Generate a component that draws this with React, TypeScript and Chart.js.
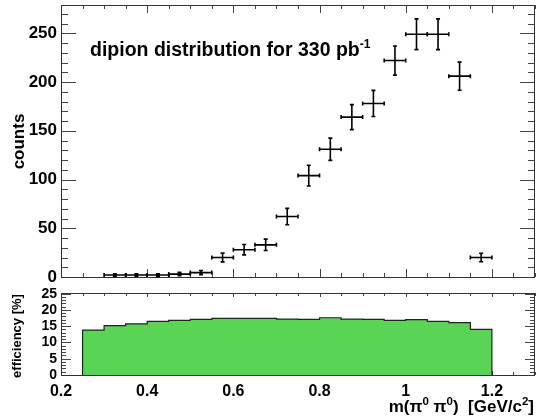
import React, { useEffect, useRef } from "react";
import { Chart, registerables } from "chart.js";

Chart.register(...registerables);

// ---------- data ----------
const binWidth = 0.05;
const countBinCenters = [0.325, 0.375, 0.425, 0.475, 0.525, 0.575, 0.625, 0.675, 0.725, 0.775, 0.825, 0.875, 0.925, 0.975, 1.025, 1.075, 1.125, 1.175];
const counts = [2, 2, 2, 3, 4.5, 20, 28, 33, 62, 104, 131, 164, 178, 222, 249, 249, 206, 20];
const countErrors = [1.4, 1.4, 1.4, 1.7, 2.1, 4.5, 5.3, 5.8, 8.4, 10.7, 11.4, 12.8, 13.4, 14.9, 15.8, 15.8, 14.4, 4.3];

const effBinLowEdges = [0.25, 0.3, 0.35, 0.4, 0.45, 0.5, 0.55, 0.6, 0.65, 0.7, 0.75, 0.8, 0.85, 0.9, 0.95, 1.0, 1.05, 1.1, 1.15];
const efficiency = [13.8, 15.2, 15.7, 16.5, 16.8, 17.1, 17.4, 17.4, 17.4, 17.2, 17.1, 17.6, 17.2, 17.1, 16.8, 17.0, 16.5, 16.1, 14.0];

const xTickLabels = ["0.2", "0.4", "0.6", "0.8", "1", "1.2"];
const topYTickLabels = ["0", "50", "100", "150", "200", "250"];
const bottomYTickLabels = ["0", "5", "10", "15", "20", "25"];

const FONT = "'Liberation Sans', Arial, Helvetica, sans-serif";

type Part = { t: string; sup?: boolean };

function drawRich(ctx: CanvasRenderingContext2D, parts: Part[], x: number, y: number, size: number, supSize: number, supRise: number, align: "left" | "right") {
  const fontOf = (p: Part) => `bold ${p.sup ? supSize : size}px ${FONT}`;
  let total = 0;
  for (const p of parts) {
    ctx.font = fontOf(p);
    total += ctx.measureText(p.t).width;
  }
  let cx = align === "left" ? x : x - total;
  ctx.textAlign = "left";
  ctx.textBaseline = "alphabetic";
  for (const p of parts) {
    ctx.font = fontOf(p);
    ctx.fillText(p.t, cx, p.sup ? y - supRise : y);
    cx += ctx.measureText(p.t).width;
  }
}

type FrameCfg = {
  xMajor: number; xMinor: number; yMajor: number; yMinor: number;
  xMajLen: number; xMinLen: number; yMajLen: number; yMinLen: number;
};

function makeFramePlugin(cfg: FrameCfg) {
  return {
    id: "rootFrame",
    beforeDatasetsDraw(chart: any) {
      const { ctx, chartArea: a, scales } = chart;
      const xs = scales.x, ys = scales.y;
      ctx.save();
      ctx.strokeStyle = "#444";
      ctx.lineWidth = 1;
      const ticks = (min: number, max: number, step: number) => {
        const out: number[] = [];
        const start = Math.ceil(min / step - 1e-6);
        for (let k = start; k * step <= max + 1e-9; k++) out.push(k * step);
        return out;
      };
      const isMajor = (v: number, major: number) => Math.abs(v / major - Math.round(v / major)) < 1e-6;
      ctx.beginPath();
      for (const v of ticks(xs.min, xs.max, cfg.xMinor)) {
        const px = Math.round(xs.getPixelForValue(v)) + 0.5;
        const len = isMajor(v, cfg.xMajor) ? cfg.xMajLen : cfg.xMinLen;
        ctx.moveTo(px, a.bottom); ctx.lineTo(px, a.bottom - len);
        ctx.moveTo(px, a.top); ctx.lineTo(px, a.top + len);
      }
      for (const v of ticks(ys.min, ys.max, cfg.yMinor)) {
        const py = Math.round(ys.getPixelForValue(v)) + 0.5;
        const len = isMajor(v, cfg.yMajor) ? cfg.yMajLen : cfg.yMinLen;
        ctx.moveTo(a.left, py); ctx.lineTo(a.left + len, py);
        ctx.moveTo(a.right, py); ctx.lineTo(a.right - len, py);
      }
      ctx.stroke();
      ctx.restore();
    },
    afterDatasetsDraw(chart: any) {
      const { ctx, chartArea: a } = chart;
      ctx.save();
      ctx.strokeStyle = "#333";
      ctx.lineWidth = 1;
      ctx.strokeRect(Math.round(a.left) + 0.5, Math.round(a.top) + 0.5, Math.round(a.right - a.left) - 1, Math.round(a.bottom - a.top));
      ctx.restore();
    },
  };
}

const errorBarPlugin = {
  id: "errBars",
  afterDatasetsDraw(chart: any) {
    const { ctx, scales } = chart;
    const xs = scales.x, ys = scales.y;
    ctx.save();
    ctx.strokeStyle = "#000";
    ctx.lineWidth = 1.6;
    const cap = 2;
    countBinCenters.forEach((c, i) => {
      const xl = xs.getPixelForValue(c - binWidth / 2);
      const xr = xs.getPixelForValue(c + binWidth / 2);
      const xc = xs.getPixelForValue(c);
      const yc = ys.getPixelForValue(counts[i]);
      const yt = ys.getPixelForValue(counts[i] + countErrors[i]);
      const yb = ys.getPixelForValue(counts[i] - countErrors[i]);
      ctx.beginPath();
      ctx.moveTo(xl, yc); ctx.lineTo(xr, yc);
      ctx.moveTo(xc, yt); ctx.lineTo(xc, yb);
      ctx.moveTo(xl, yc - cap); ctx.lineTo(xl, yc + cap);
      ctx.moveTo(xr, yc - cap); ctx.lineTo(xr, yc + cap);
      ctx.moveTo(xc - cap, yt); ctx.lineTo(xc + cap, yt);
      ctx.moveTo(xc - cap, yb); ctx.lineTo(xc + cap, yb);
      ctx.stroke();
    });
    ctx.restore();
  },
};

const topTextPlugin = {
  id: "topText",
  afterDraw(chart: any) {
    const { ctx } = chart;
    ctx.save();
    ctx.fillStyle = "#000";
    drawRich(ctx, [{ t: "dipion distribution for 330 pb" }, { t: "-1", sup: true }], 90, 56, 19.5, 12, 8, "left");
    ctx.translate(24, 141.5);
    ctx.rotate(-Math.PI / 2);
    ctx.font = `bold 17px ${FONT}`;
    ctx.textAlign = "center";
    ctx.textBaseline = "alphabetic";
    ctx.fillText("counts", 0, 0);
    ctx.restore();
  },
};

const BOTTOM_TOP = 282;

const bottomTextPlugin = {
  id: "bottomText",
  afterDraw(chart: any) {
    const { ctx } = chart;
    ctx.save();
    ctx.fillStyle = "#000";
    drawRich(
      ctx,
      [{ t: "m(\u03c0" }, { t: "0", sup: true }, { t: " \u03c0" }, { t: "0", sup: true }, { t: ")  [GeV/c" }, { t: "2", sup: true }, { t: "]" }],
      534, 411.5 - BOTTOM_TOP, 17, 11.5, 6.5, "right"
    );
    ctx.translate(21, 336 - BOTTOM_TOP);
    ctx.rotate(-Math.PI / 2);
    ctx.font = `bold 13px ${FONT}`;
    ctx.textAlign = "center";
    ctx.textBaseline = "alphabetic";
    ctx.fillText("efficiency [%]", 0, 0);
    ctx.restore();
  },
};

function labelFrom(list: string[], step: number) {
  return (v: number) => {
    const idx = Math.round(v / step);
    return list[idx] ?? "";
  };
}

export default function App() {
  const topRef = useRef<HTMLCanvasElement | null>(null);
  const botRef = useRef<HTMLCanvasElement | null>(null);

  useEffect(() => {
    if (!topRef.current || !botRef.current) return;

    const topChart = new Chart(topRef.current, {
      type: "scatter",
      data: {
        datasets: [
          {
            data: countBinCenters.map((x, i) => ({ x, y: counts[i] })),
            pointRadius: 0,
            showLine: false,
          },
        ],
      },
      options: {
        responsive: false,
        animation: false,
        events: [],
        layout: { padding: { left: 0, right: 5, top: 5, bottom: 0 } },
        plugins: { legend: { display: false }, tooltip: { enabled: false } },
        scales: {
          x: {
            type: "linear",
            min: 0.2,
            max: 1.3,
            ticks: { display: false },
            grid: { display: false, drawTicks: false },
            border: { display: false },
            afterFit: (s: any) => {
              s.height = 13;
              s.paddingLeft = 0; s.paddingRight = 0;
            },
          },
          y: {
            type: "linear",
            min: 0,
            max: 279,
            ticks: {
              stepSize: 50,
              includeBounds: false,
              autoSkip: false,
              padding: 4,
              color: "#000",
              font: { family: FONT, size: 17, weight: "bold" },
              callback: (v: any) => labelFrom(topYTickLabels, 50)(Number(v)),
            },
            grid: { display: false, drawTicks: false },
            border: { display: false },
            afterFit: (s: any) => {
              s.width = 61;
              s.paddingTop = 0; s.paddingBottom = 0;
            },
          },
        },
      } as any,
      plugins: [
        makeFramePlugin({ xMajor: 0.2, xMinor: 0.05, yMajor: 50, yMinor: 10, xMajLen: 8, xMinLen: 4, yMajLen: 15, yMinLen: 7 }),
        errorBarPlugin,
        topTextPlugin,
      ],
    });

    const edgesX = [...effBinLowEdges, effBinLowEdges[effBinLowEdges.length - 1] + binWidth];
    const stepPoints = [
      { x: edgesX[0], y: 0 },
      ...efficiency.map((v, i) => ({ x: edgesX[i], y: v })),
      { x: edgesX[edgesX.length - 1], y: efficiency[efficiency.length - 1] },
      { x: edgesX[edgesX.length - 1], y: 0 },
    ];

    const botChart = new Chart(botRef.current, {
      type: "line",
      data: {
        datasets: [
          {
            data: stepPoints,
            stepped: "before",
            fill: "origin",
            backgroundColor: "rgb(89,212,84)",
            borderColor: "#222",
            borderWidth: 1.2,
            pointRadius: 0,
            tension: 0,
          },
        ],
      },
      options: {
        responsive: false,
        animation: false,
        events: [],
        layout: { padding: { left: 0, right: 5, top: 11, bottom: 0 } },
        plugins: { legend: { display: false }, tooltip: { enabled: false } },
        scales: {
          x: {
            type: "linear",
            min: 0.2,
            max: 1.3,
            ticks: {
              stepSize: 0.2,
              includeBounds: false,
              autoSkip: false,
              maxRotation: 0,
              minRotation: 0,
              padding: 7,
              color: "#000",
              font: { family: FONT, size: 16, weight: "bold" },
              callback: (v: any) => labelFrom(xTickLabels, 0.2)(Number(v) - 0.2),
            },
            grid: { display: false, drawTicks: false },
            border: { display: false },
            afterFit: (s: any) => {
              s.height = 44;
              s.paddingLeft = 0; s.paddingRight = 0;
            },
          },
          y: {
            type: "linear",
            min: 0,
            max: 25.2,
            ticks: {
              stepSize: 5,
              includeBounds: false,
              autoSkip: false,
              padding: 4,
              color: "#000",
              font: { family: FONT, size: 14, weight: "bold" },
              callback: (v: any) => labelFrom(bottomYTickLabels, 5)(Number(v)),
            },
            grid: { display: false, drawTicks: false },
            border: { display: false },
            afterFit: (s: any) => {
              s.width = 61;
              s.paddingTop = 0; s.paddingBottom = 0;
            },
          },
        },
      } as any,
      plugins: [
        makeFramePlugin({ xMajor: 0.2, xMinor: 0.05, yMajor: 5, yMinor: 1, xMajLen: 4, xMinLen: 3, yMajLen: 10, yMinLen: 5 }),
        bottomTextPlugin,
      ],
    });

    return () => {
      topChart.destroy();
      botChart.destroy();
    };
  }, []);

  return (
    <div style={{ position: "fixed", left: 0, top: 0, width: 540, height: 419, background: "#fff" }}>
      <canvas ref={topRef} width={540} height={290} style={{ position: "absolute", left: 0, top: 0, width: 540, height: 290 }} />
      <canvas ref={botRef} width={540} height={137} style={{ position: "absolute", left: 0, top: BOTTOM_TOP, width: 540, height: 137 }} />
    </div>
  );
}
